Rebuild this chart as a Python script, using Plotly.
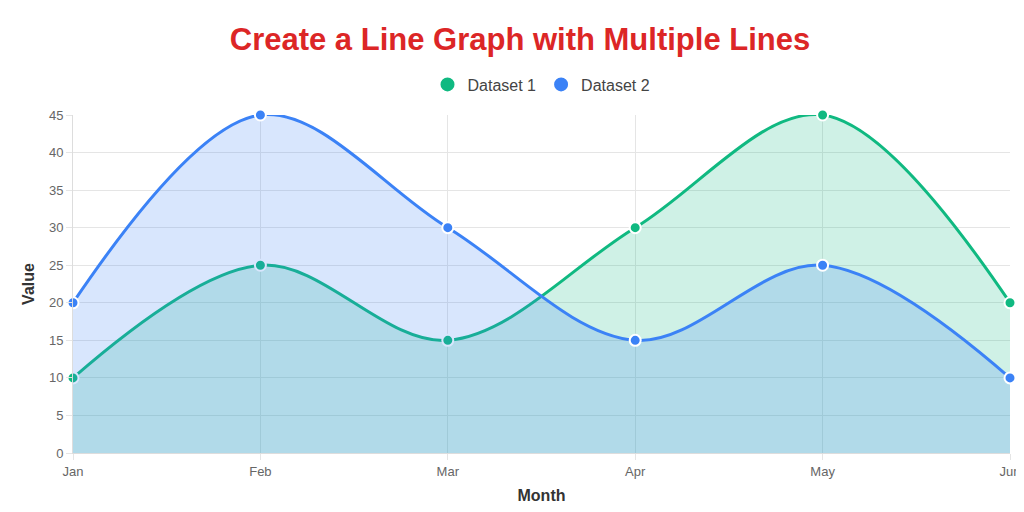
import plotly.graph_objects as go

months = ["Jan", "Feb", "Mar", "Apr", "May", "Jun"]
dataset1 = [10, 25, 15, 30, 45, 20]
dataset2 = [20, 45, 30, 15, 25, 10]
y_ticks = [0, 5, 10, 15, 20, 25, 30, 35, 40, 45]

green = "#10b981"
blue = "#3b82f6"

fig = go.Figure()
for name, vals, col, fill in [("Dataset 1", dataset1, green, "rgba(16,185,129,0.2)"),
                              ("Dataset 2", dataset2, blue, "rgba(59,130,246,0.2)")]:
    fig.add_trace(go.Scatter(x=months, y=vals, name=name, mode="lines+markers",
                             line=dict(color=col, width=3, shape="spline", smoothing=1.0),
                             marker=dict(size=11, color=col, line=dict(color="white", width=2)),
                             fill="tozeroy", fillcolor=fill, showlegend=False, cliponaxis=False))
    fig.add_trace(go.Scatter(x=[None], y=[None], name=name, mode="markers",
                             marker=dict(size=20, color=col, line=dict(color="white", width=2))))

fig.update_layout(
    width=1024, height=512, paper_bgcolor="white", plot_bgcolor="white",
    margin=dict(l=65, r=16, t=107, b=67),
    title=dict(text="<b>Create a Line Graph with Multiple Lines</b>", x=0.5, xanchor="center",
               y=0.94, yanchor="middle", font=dict(family="Liberation Sans, Arial", size=31, color="#dc2626")),
    legend=dict(orientation="h", x=0.5, xanchor="center", y=1.04, yanchor="bottom",
                font=dict(family="Liberation Sans, Arial", size=16, color="#444"), itemwidth=30),
    font=dict(family="Liberation Sans, Arial", color="#666", size=13),
    xaxis=dict(range=[0, 5], showgrid=True, gridcolor="#e5e5e5", zeroline=False, showline=True,
               linecolor="#ddd", ticks="outside", ticklen=6, tickcolor="#e5e5e5",
               title=dict(text="<b>Month</b>", font=dict(size=16, color="#333"), standoff=12)),
    yaxis=dict(range=[0, 45], tickvals=y_ticks, showgrid=True, gridcolor="#e5e5e5", zeroline=False,
               showline=True, linecolor="#ddd", ticks="outside", ticklen=6, tickcolor="#e5e5e5",
               title=dict(text="<b>Value</b>", font=dict(size=16, color="#333"), standoff=10)),
)
fig.write_html("out.html")
